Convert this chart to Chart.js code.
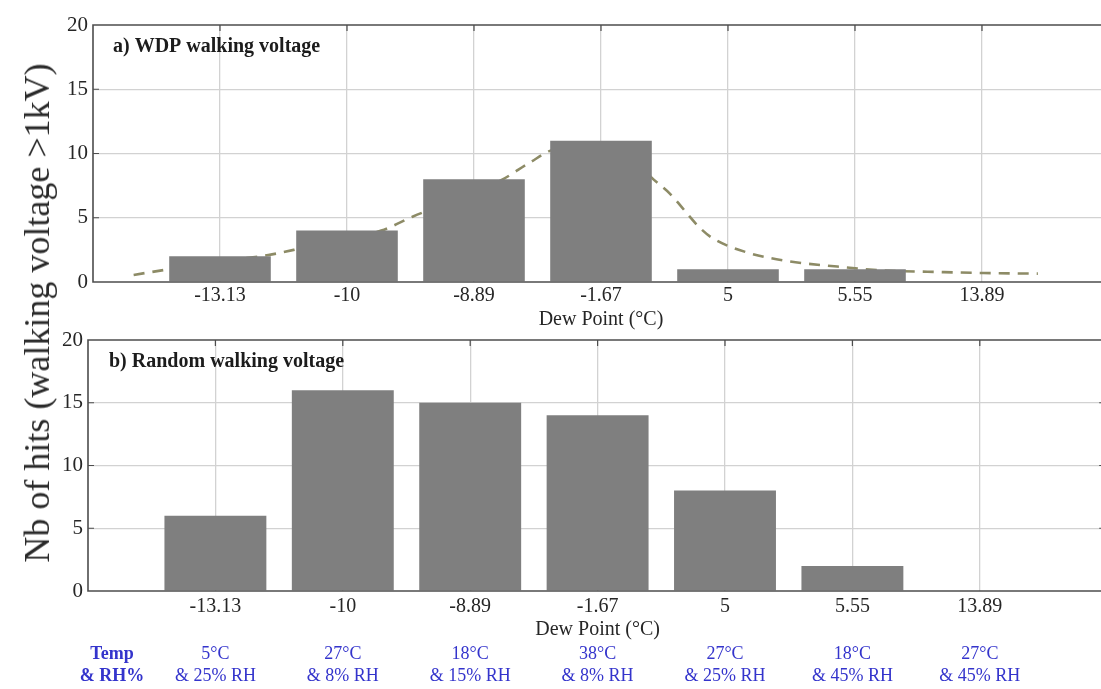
<!DOCTYPE html>
<html>
<head>
<meta charset="utf-8">
<script src="https://cdn.jsdelivr.net/npm/chart.js@4.4.1/dist/chart.umd.min.js"></script>
<style>
  html, body { margin: 0; padding: 0; background: #fff; overflow: hidden; }
  #wrap { position: relative; width: 1101px; height: 689px; overflow: hidden; }
  canvas { position: absolute; left: 0; }
  #ylabel {
    position: absolute; left: 37px; top: 313px;
    transform: translate(-50%, -50%) rotate(-90deg);
    font: 36px "Liberation Serif", serif; color: #2a2a2a; white-space: nowrap;
  }
</style>
</head>
<body>
<div id="wrap">
  <canvas id="wdp" width="1112" height="335" style="top:0"></canvas>
  <canvas id="random" width="1112" height="374" style="top:315px"></canvas>
  <div id="ylabel">Nb of hits (walking voltage &gt;1kV)</div>
</div>
<script>
// --- data ---------------------------------------------------------------
const dewPointLabels = ['-13.13', '-10', '-8.89', '-1.67', '5', '5.55', '13.89'];
const wdpHits = [2, 4, 8, 11, 1, 1, 0];
const randomHits = [6, 16, 15, 14, 8, 2, 0];

// fitted trend over the WDP bars (x in category units, 1 = first dew point)
const wdpFitX = [0.32, 0.60, 1.00, 1.38, 1.58, 1.90, 2.27, 2.52, 2.85, 3.21, 3.44, 3.62, 3.90,
                 4.21, 4.39, 4.54, 4.78, 4.88, 5.15, 5.49, 5.86, 6.22, 6.57, 7.01, 7.44];
const wdpFitY = [0.55, 1.0, 1.6, 2.1, 2.5, 3.3, 4.0, 5.1, 6.4, 7.9, 9.3, 10.3, 10.7,
                 10.2, 8.2, 6.9, 4.2, 3.4, 2.3, 1.6, 1.2, 0.9, 0.8, 0.7, 0.65];

const tempLabels = ['5°C', '27°C', '18°C', '38°C', '27°C', '18°C', '27°C'];
const rhLabels = ['& 25% RH', '& 8% RH', '& 15% RH', '& 8% RH', '& 25% RH', '& 45% RH', '& 45% RH'];

const SERIF = '"Liberation Serif", "Times New Roman", serif';
const GRID = '#d2d2d2';
const FRAME = '#4d4d4d';

// MATLAB-like box: top/left/bottom border plus inward tick marks, drawn over the bars
const framePlugin = {
  id: 'frame',
  afterDatasetsDraw(chart, args, opts) {
    const { ctx, chartArea: a, scales: { x, y } } = chart;
    ctx.save();
    ctx.strokeStyle = FRAME;
    ctx.lineWidth = 1.6;
    ctx.beginPath();
    ctx.moveTo(a.right, a.top); ctx.lineTo(a.left, a.top);
    ctx.lineTo(a.left, a.bottom); ctx.lineTo(a.right, a.bottom);
    ctx.stroke();
    ctx.lineWidth = 1.2;
    ctx.beginPath();
    for (let i = 1; i <= dewPointLabels.length; i++) {
      const px = x.getPixelForValue(i);
      ctx.moveTo(px, a.top); ctx.lineTo(px, a.top + 6);
    }
    y.ticks.forEach(t => {
      if (t.value <= 0 || t.value >= 20) return;
      const py = y.getPixelForValue(t.value);
      ctx.moveTo(a.left, py); ctx.lineTo(a.left + 6, py);
      ctx.moveTo(a.right, py); ctx.lineTo(a.right - 8, py);
    });
    ctx.stroke();

    // panel caption
    ctx.fillStyle = '#1c1c1c';
    ctx.font = 'bold 20px ' + SERIF;
    ctx.textBaseline = 'middle';
    ctx.textAlign = 'left';
    ctx.fillText(opts.caption, a.left + opts.captionDx, a.top + 22);
    ctx.restore();
  }
};

// temperature / humidity rows under the lower panel
const conditionsPlugin = {
  id: 'conditions',
  afterDraw(chart, args, opts) {
    if (!opts.show) return;
    const { ctx, scales: { x } } = chart;
    ctx.save();
    ctx.fillStyle = '#3434cc';
    ctx.textAlign = 'center';
    ctx.textBaseline = 'middle';
    ctx.font = 'bold 18px ' + SERIF;
    ctx.fillText('Temp', 112, opts.row1);
    ctx.fillText('& RH%', 112, opts.row2);
    ctx.font = '18px ' + SERIF;
    tempLabels.forEach((t, i) => {
      const px = x.getPixelForValue(i + 1);
      ctx.fillText(t, px, opts.row1);
      ctx.fillText(rhLabels[i], px, opts.row2);
    });
    ctx.restore();
  }
};

function makePanel(id, cfg) {
  const canvas = document.getElementById(id);
  const W = canvas.width, H = canvas.height;
  const datasets = [{
    type: 'bar',
    data: cfg.hits.map((v, i) => ({ x: i + 1, y: v })),
    backgroundColor: '#7f7f7f',
    borderWidth: 0,
    barPercentage: 0.8,
    categoryPercentage: 1.0,
    order: 0
  }];
  if (cfg.fit) {
    datasets.push({
      type: 'line',
      data: wdpFitX.map((v, i) => ({ x: v, y: wdpFitY[i] })),
      borderColor: '#8d8b66',
      borderWidth: 2.6,
      borderDash: [11, 8],
      pointRadius: 0,
      cubicInterpolationMode: 'monotone',
      fill: false,
      order: 1
    });
  }

  return new Chart(canvas, {
    type: 'bar',
    data: { datasets },
    options: {
      responsive: false,
      animation: false,
      devicePixelRatio: 1,
      layout: { padding: { top: cfg.top, left: 0, right: W - (cfg.left + 8 * cfg.step), bottom: 0 } },
      plugins: {
        legend: { display: false },
        tooltip: { enabled: false },
        frame: { caption: cfg.caption, captionDx: cfg.captionDx },
        conditions: cfg.conditions || { show: false }
      },
      scales: {
        x: {
          type: 'linear',
          min: 0, max: 8,
          offset: false,
          afterFit: s => { s.height = H - cfg.bottom; },
          grid: {
            offset: false,
            drawTicks: false,
            color: c => (c.tick && c.tick.value >= 1 && c.tick.value <= 7) ? GRID : 'rgba(0,0,0,0)',
            lineWidth: 1.3
          },
          border: { display: false },
          ticks: {
            stepSize: 1,
            autoSkip: false,
            maxRotation: 0,
            padding: cfg.tickPad,
            color: '#262626',
            font: { family: SERIF, size: 20 },
            callback: v => (v >= 1 && v <= 7) ? dewPointLabels[v - 1] : ''
          },
          title: {
            display: true,
            text: 'Dew Point (°C)',
            color: '#262626',
            font: { family: SERIF, size: 20 },
            padding: { top: 0, bottom: cfg.titlePad }
          }
        },
        y: {
          min: 0, max: 20,
          afterFit: s => { s.width = cfg.left; },
          grid: {
            drawTicks: false,
            color: c => (c.tick && c.tick.value > 0 && c.tick.value < 20) ? GRID : 'rgba(0,0,0,0)',
            lineWidth: 1.3
          },
          border: { display: false },
          ticks: {
            stepSize: 5,
            padding: 5,
            color: '#262626',
            font: { family: SERIF, size: 21 }
          }
        }
      }
    },
    plugins: [framePlugin, conditionsPlugin]
  });
}

makePanel('wdp', {
  hits: wdpHits, fit: true,
  left: 93, step: 127, top: 25, bottom: 282,
  tickPad: 2, titlePad: 3,
  caption: 'a) WDP walking voltage', captionDx: 20
});

makePanel('random', {
  hits: randomHits, fit: false,
  left: 88, step: 127.4, top: 25, bottom: 276,
  tickPad: 4, titlePad: 47,
  caption: 'b) Random walking voltage', captionDx: 21,
  conditions: { show: true, row1: 339, row2: 361 }
});
</script>
</body>
</html>
